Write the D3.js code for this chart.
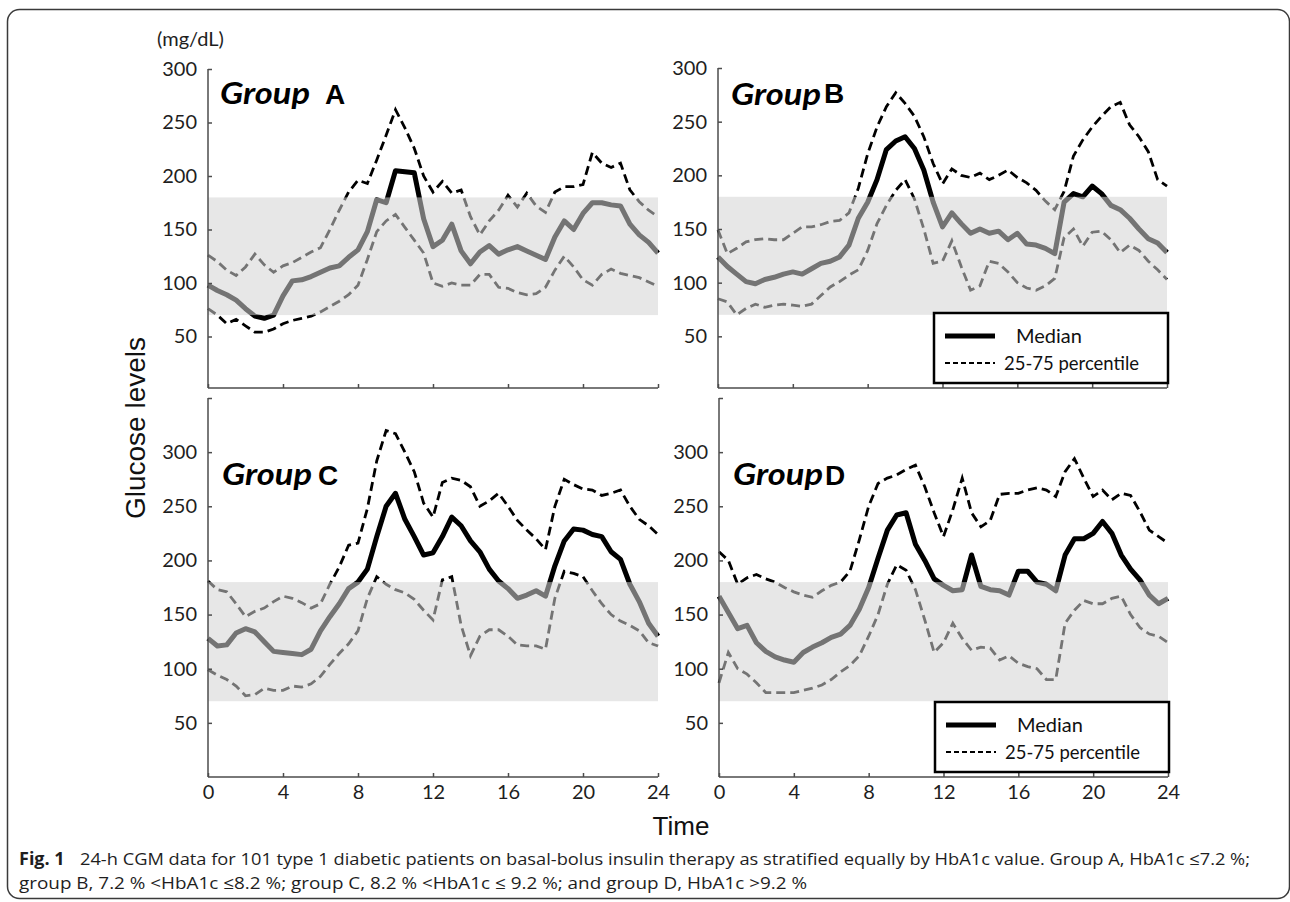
<!doctype html>
<meta charset="utf-8">
<title>24-h CGM by HbA1c group</title>
<script src="https://cdn.jsdelivr.net/npm/d3@7"></script>
<style>
  body { margin: 0; background: #fff; }
</style>

<svg id="chart" width="1290" height="902"></svg>

<script>
  // time of day (h), one reading every half hour
  const hours = [0, 0.5, 1, 1.5, 2, 2.5, 3, 3.5, 4, 4.5, 5, 5.5, 6, 6.5, 7, 7.5, 8, 8.5, 9, 9.5,
    10, 10.5, 11, 11.5, 12, 12.5, 13, 13.5, 14, 14.5, 15, 15.5, 16, 16.5, 17, 17.5, 18, 18.5, 19, 19.5,
    20, 20.5, 21, 21.5, 22, 22.5, 23, 23.5, 24]
  const xTicks = [0, 4, 8, 12, 16, 20, 24]

  // glucose, mg/dL (median and 25th / 75th percentile)
  const medA = [98, 93, 89, 84, 76, 69, 67, 70, 88, 102, 103, 106, 110, 114, 116, 124, 131, 148, 178, 175,
    205, 204, 203, 160, 134, 140, 155, 130, 118, 129, 135, 127, 131, 134, 130, 126, 122, 143, 158, 150,
    165, 175, 175, 173, 172, 155, 145, 138, 128]
  const p75A = [126, 120, 112, 107, 115, 127, 117, 110, 116, 119, 124, 129, 133, 150, 168, 185, 196, 193, 215, 238,
    262, 245, 226, 200, 185, 195, 184, 187, 162, 145, 158, 168, 182, 171, 184, 172, 166, 185, 190, 190,
    192, 222, 212, 208, 212, 187, 176, 168, 162]
  const p25A = [76, 70, 62, 66, 60, 54, 54, 57, 62, 65, 67, 69, 73, 78, 83, 89, 98, 122, 148, 158,
    164, 152, 140, 128, 100, 97, 100, 98, 98, 108, 108, 96, 95, 91, 89, 90, 96, 112, 125, 115,
    103, 98, 108, 113, 109, 107, 105, 101, 97]

  const medB = [124, 115, 108, 101, 99, 103, 105, 108, 110, 108, 113, 118, 120, 124, 135, 160, 175, 196, 224, 232,
    236, 225, 205, 175, 152, 165, 155, 146, 150, 146, 148, 140, 146, 136, 135, 132, 127, 175, 183, 180,
    190, 183, 172, 168, 160, 150, 141, 137, 128]
  const p75B = [149, 127, 132, 138, 140, 141, 140, 140, 146, 152, 152, 154, 157, 158, 165, 188, 220, 245, 264, 277,
    267, 255, 236, 211, 192, 206, 200, 198, 202, 196, 200, 205, 198, 193, 186, 176, 168, 185, 218, 233,
    245, 255, 264, 268, 247, 236, 222, 196, 190]
  const p25B = [85, 82, 70, 76, 80, 77, 79, 80, 79, 78, 80, 88, 96, 101, 107, 112, 130, 155, 172, 186,
    196, 178, 150, 118, 120, 139, 115, 93, 97, 120, 118, 110, 100, 95, 93, 97, 104, 142, 150, 134,
    147, 148, 140, 128, 135, 130, 120, 112, 103]

  const medC = [128, 121, 122, 133, 137, 134, 125, 116, 115, 114, 113, 118, 135, 148, 160, 174, 180, 192, 222, 250,
    262, 238, 222, 205, 207, 222, 240, 232, 218, 208, 192, 181, 174, 165, 168, 172, 167, 195, 218, 229,
    228, 224, 222, 208, 201, 178, 162, 142, 130]
  const p75C = [181, 173, 171, 160, 148, 153, 156, 162, 167, 165, 161, 156, 160, 178, 194, 214, 216, 248, 292, 320,
    317, 300, 282, 253, 240, 272, 276, 274, 268, 250, 255, 262, 250, 237, 228, 220, 210, 250, 275, 270,
    266, 265, 260, 262, 265, 250, 238, 232, 224]
  const p25C = [99, 94, 90, 84, 75, 76, 82, 80, 80, 84, 83, 86, 93, 104, 114, 123, 135, 165, 185, 178,
    173, 170, 164, 154, 145, 182, 185, 140, 112, 130, 136, 136, 130, 122, 121, 121, 118, 165, 190, 188,
    185, 172, 160, 150, 144, 140, 135, 124, 121]

  const medD = [167, 152, 137, 140, 124, 116, 111, 108, 106, 115, 120, 124, 129, 132, 140, 155, 175, 202, 228, 242,
    244, 215, 200, 183, 177, 172, 173, 205, 176, 173, 172, 168, 190, 190, 180, 178, 172, 205, 220, 220,
    225, 236, 225, 205, 192, 182, 168, 160, 165]
  const p75D = [208, 200, 178, 184, 187, 183, 180, 175, 171, 168, 166, 172, 177, 180, 190, 219, 250, 271, 276, 279,
    284, 288, 268, 244, 222, 247, 276, 244, 231, 237, 261, 262, 262, 265, 267, 265, 259, 282, 294, 276,
    259, 265, 256, 262, 260, 245, 228, 222, 216]
  const p25D = [87, 115, 100, 95, 87, 78, 78, 78, 78, 80, 82, 85, 90, 97, 103, 112, 130, 150, 178, 196,
    191, 173, 145, 115, 124, 142, 128, 117, 120, 119, 108, 112, 105, 102, 100, 90, 90, 142, 154, 163,
    160, 160, 165, 167, 150, 138, 132, 130, 124]

  // target range shading
  const bandLow = 70
  const bandHigh = 180

  const caption1 = '24-h CGM data for 101 type 1 diabetic patients on basal-bolus insulin therapy as stratified equally by HbA1c value. Group A, HbA1c \u22647.2 %;'
  const caption2 = 'group B, 7.2 % <HbA1c \u22648.2 %; group C, 8.2 % <HbA1c \u2264 9.2 %; and group D, HbA1c >9.2 %'

  const svg = d3.select('#chart')
  const axisColor = '#4d4d4d'
  const calibri = 'Lato, "Open Sans", sans-serif'
  const arial = '"Liberation Sans", Arial, sans-serif'

  // layout of the four panels
  const panels = [
    { letter: 'A', med: medA, p75: p75A, p25: p25A, x0: 208, x1: 658, yZero: 390, yTop: 69, yMax: 300,
      axisY: 388, yTicks: [50, 100, 150, 200, 250, 300], xLabels: false, legend: false, gx: 220, gy: 104, lx: 325 },
    { letter: 'B', med: medB, p75: p75B, p25: p25B, x0: 718, x1: 1167, yZero: 390, yTop: 68, yMax: 300,
      axisY: 388, yTicks: [50, 100, 150, 200, 250, 300], xLabels: false, legend: true, gx: 731, gy: 105, lx: 824 },
    { letter: 'C', med: medC, p75: p75C, p25: p25C, x0: 208, x1: 658, yZero: 777, yTop: 398, yMax: 350,
      axisY: 777, yTicks: [50, 100, 150, 200, 250, 300, 350], xLabels: true, legend: false, gx: 222, gy: 485, lx: 318 },
    { letter: 'D', med: medD, p75: p75D, p25: p25D, x0: 719, x1: 1168, yZero: 777, yTop: 398, yMax: 350,
      axisY: 777, yTicks: [50, 100, 150, 200, 250, 300, 350], xLabels: true, legend: true, gx: 733, gy: 485, lx: 825 },
  ]

  // outer figure frame
  svg.append('rect')
    .attr('x', 7.5).attr('y', 9.5)
    .attr('width', 1282).attr('height', 889)
    .attr('rx', 12)
    .attr('fill', 'none')
    .attr('stroke', '#3a3a3a')
    .attr('stroke-width', 1.5)

  function styleAxis(g) {
    g.select('.domain').remove()
    g.selectAll('.tick line').attr('stroke', axisColor).attr('stroke-width', 1.5)
    g.selectAll('.tick text')
      .attr('font-family', calibri)
      .attr('font-size', 20)
      .attr('fill', '#1e1e1e')
  }

  function drawPanel(p) {
    const x = d3.scaleLinear().domain([0, 24]).range([p.x0, p.x1])
    const y = d3.scaleLinear().domain([0, p.yMax]).range([p.yZero, p.yTop])
    const g = svg.append('g')

    const line = d3.line()
      .x((d, i) => x(hours[i]))
      .y((d) => y(d))

    // 25-75 percentile
    ;[p.p75, p.p25].forEach((s) => {
      g.append('path')
        .attr('d', line(s))
        .attr('fill', 'none')
        .attr('stroke', '#000')
        .attr('stroke-width', 2.8)
        .attr('stroke-dasharray', '9,5')
    })
    // median
    g.append('path')
      .attr('d', line(p.med))
      .attr('fill', 'none')
      .attr('stroke', '#000')
      .attr('stroke-width', 5)
      .attr('stroke-linejoin', 'round')

    // translucent band laid over the lines, so they turn grey inside it
    g.append('rect')
      .attr('x', x(0))
      .attr('y', y(bandHigh))
      .attr('width', x(24) - x(0))
      .attr('height', y(bandLow) - y(bandHigh))
      .attr('fill', '#d4d4d4')
      .attr('fill-opacity', 0.55)

    // axes
    g.append('g')
      .attr('transform', `translate(${p.x0},0)`)
      .call(d3.axisLeft(y).tickValues(p.yTicks).tickSizeInner(-4).tickSizeOuter(0).tickPadding(11)
        .tickFormat((d) => (d <= 300 ? d : '')))
      .call(styleAxis)
    g.append('g')
      .attr('transform', `translate(0,${p.axisY})`)
      .call(d3.axisBottom(x).tickValues(xTicks).tickSizeInner(-4).tickSizeOuter(0).tickPadding(8)
        .tickFormat((d) => (p.xLabels ? d : '')))
      .call(styleAxis)
    g.append('line')
      .attr('x1', p.x0).attr('x2', p.x0)
      .attr('y1', p.yTop).attr('y2', p.axisY)
      .attr('stroke', axisColor).attr('stroke-width', 1.5)
    g.append('line')
      .attr('x1', p.x0).attr('x2', p.x1)
      .attr('y1', p.axisY).attr('y2', p.axisY)
      .attr('stroke', axisColor).attr('stroke-width', 1.5)

    // panel title
    g.append('text')
      .attr('x', p.gx).attr('y', p.gy)
      .attr('font-family', calibri)
      .attr('font-size', 31)
      .attr('font-weight', 'bold')
      .attr('font-style', 'italic')
      .attr('fill', '#000')
      .attr('textLength', 90).attr('lengthAdjust', 'spacingAndGlyphs')
      .text('Group')
    g.append('text')
      .attr('x', p.lx).attr('y', p.letter === 'B' ? p.gy - 2 : p.gy)
      .attr('font-family', arial)
      .attr('font-size', 28)
      .attr('font-weight', 'bold')
      .attr('fill', '#000')
      .text(p.letter)

    if (p.legend) drawLegend(p.x1 - 233, p.axisY - 75)
  }

  function drawLegend(left, top) {
    const g = svg.append('g').attr('transform', `translate(${left},${top})`)
    g.append('rect')
      .attr('width', 234).attr('height', 70)
      .attr('fill', '#fff')
      .attr('stroke', '#000')
      .attr('stroke-width', 2.5)
    g.append('line')
      .attr('x1', 11).attr('x2', 61).attr('y1', 23).attr('y2', 23)
      .attr('stroke', '#000').attr('stroke-width', 5)
    g.append('line')
      .attr('x1', 11).attr('x2', 61).attr('y1', 50).attr('y2', 50)
      .attr('stroke', '#000').attr('stroke-width', 2)
      .attr('stroke-dasharray', '5,3')
    g.append('text')
      .attr('x', 82).attr('y', 30)
      .attr('font-family', calibri).attr('font-size', 20).attr('fill', '#111')
      .text('Median')
    g.append('text')
      .attr('x', 70).attr('y', 57)
      .attr('font-family', calibri).attr('font-size', 20).attr('fill', '#111')
      .attr('textLength', 135).attr('lengthAdjust', 'spacingAndGlyphs')
      .text('25-75 percentile')
  }

  panels.forEach(drawPanel)

  // shared labels
  svg.append('text')
    .attr('x', 157).attr('y', 46)
    .attr('font-family', calibri).attr('font-size', 20).attr('fill', '#1e1e1e')
    .text('(mg/dL)')
  svg.append('text')
    .attr('transform', 'translate(145,428) rotate(-90)')
    .attr('text-anchor', 'middle')
    .attr('font-family', arial).attr('font-size', 28).attr('fill', '#111')
    .text('Glucose levels')
  svg.append('text')
    .attr('x', 681).attr('y', 835)
    .attr('text-anchor', 'middle')
    .attr('font-family', arial).attr('font-size', 26).attr('fill', '#111')
    .text('Time')

  // caption
  svg.append('text')
    .attr('x', 19).attr('y', 865)
    .attr('font-family', '"Open Sans", sans-serif').attr('font-size', 18)
    .attr('font-weight', 'bold').attr('fill', '#1e1e1e')
    .text('Fig. 1')
  svg.append('text')
    .attr('x', 80).attr('y', 865)
    .attr('font-family', '"Open Sans", sans-serif').attr('font-size', 17).attr('fill', '#1e1e1e')
    .attr('textLength', 1170).attr('lengthAdjust', 'spacingAndGlyphs')
    .text(caption1)
  svg.append('text')
    .attr('x', 19).attr('y', 889)
    .attr('font-family', '"Open Sans", sans-serif').attr('font-size', 17).attr('fill', '#1e1e1e')
    .attr('textLength', 788).attr('lengthAdjust', 'spacingAndGlyphs')
    .text(caption2)
</script>
